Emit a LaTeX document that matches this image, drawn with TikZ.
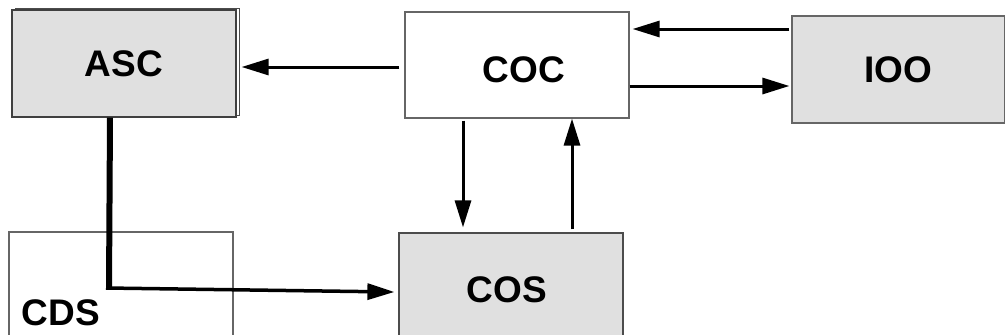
\documentclass[tikz,border=0pt]{standalone}
\usepackage{fontspec}
\setmainfont{Liberation Sans}
\usetikzlibrary{arrows.meta}
\definecolor{boxgray}{HTML}{E0E0E0}
\tikzset{
  lbl/.style={font=\fontsize{37}{42}\selectfont\bfseries},
  blk/.style={draw=black!60, line width=1.2pt, minimum width=224pt, inner sep=0pt, lbl},
  conn/.style={line width=3pt, -{Triangle[length=27pt,width=16pt]}},
}
\begin{document}
\begin{tikzpicture}[x=1pt,y=-1pt]
\useasboundingbox (0,0) rectangle (1005,335);
\clip (0,0) rectangle (1005,335);
% shadow behind ASC
\draw[draw=black!70, line width=1pt, fill=white] (15,8) rectangle (239,115);
\node[blk, fill=boxgray, draw=black!75, minimum height=107pt] (asc) at (124,63.5) {ASC};
\node[blk, fill=white, minimum height=106pt] (coc) at (517,65) {};
\node[lbl] (coct) at (524,70) {COC};
\node[blk, fill=boxgray, minimum width=213pt, minimum height=107pt] (ioo) at (898.5,69.5) {IOO};
\node[blk, fill=white, minimum height=120pt] (cds) at (121,292) {};
\node[lbl] (cdst) at (61,313) {CDS};
\node[blk, fill=boxgray, draw=black!70, minimum height=114pt] (cos) at (511,290) {};
\node[lbl] (cost) at (507,290) {COS};
% connectors
\draw[conn] ([xshift=-5pt,yshift=-2pt]coc.west) -- ([xshift=5pt,yshift=-3.5pt]asc.east);
\draw[conn] ([xshift=-2pt,yshift=40.5pt]ioo.west) -- ([xshift=3pt,yshift=36pt]coc.east);
\draw[conn] ([yshift=-21pt]coc.east) -- ([xshift=-2pt,yshift=-16.5pt]ioo.west);
\draw[conn] ([xshift=-54pt,yshift=-2pt]coc.south) -- ([xshift=-48pt,yshift=5pt]cos.north);
\draw[conn] ([xshift=61pt,yshift=3pt]cos.north) -- ([xshift=55pt]coc.south);
\coordinate (corner) at (109,288);
\draw[line width=6pt] ([xshift=-14pt]asc.south) -- ([yshift=-1pt]corner);
\draw[conn, line width=3.5pt] ([xshift=-3pt]corner) -- ([xshift=-4pt,yshift=-2pt]cos.west);
\end{tikzpicture}
\end{document}
